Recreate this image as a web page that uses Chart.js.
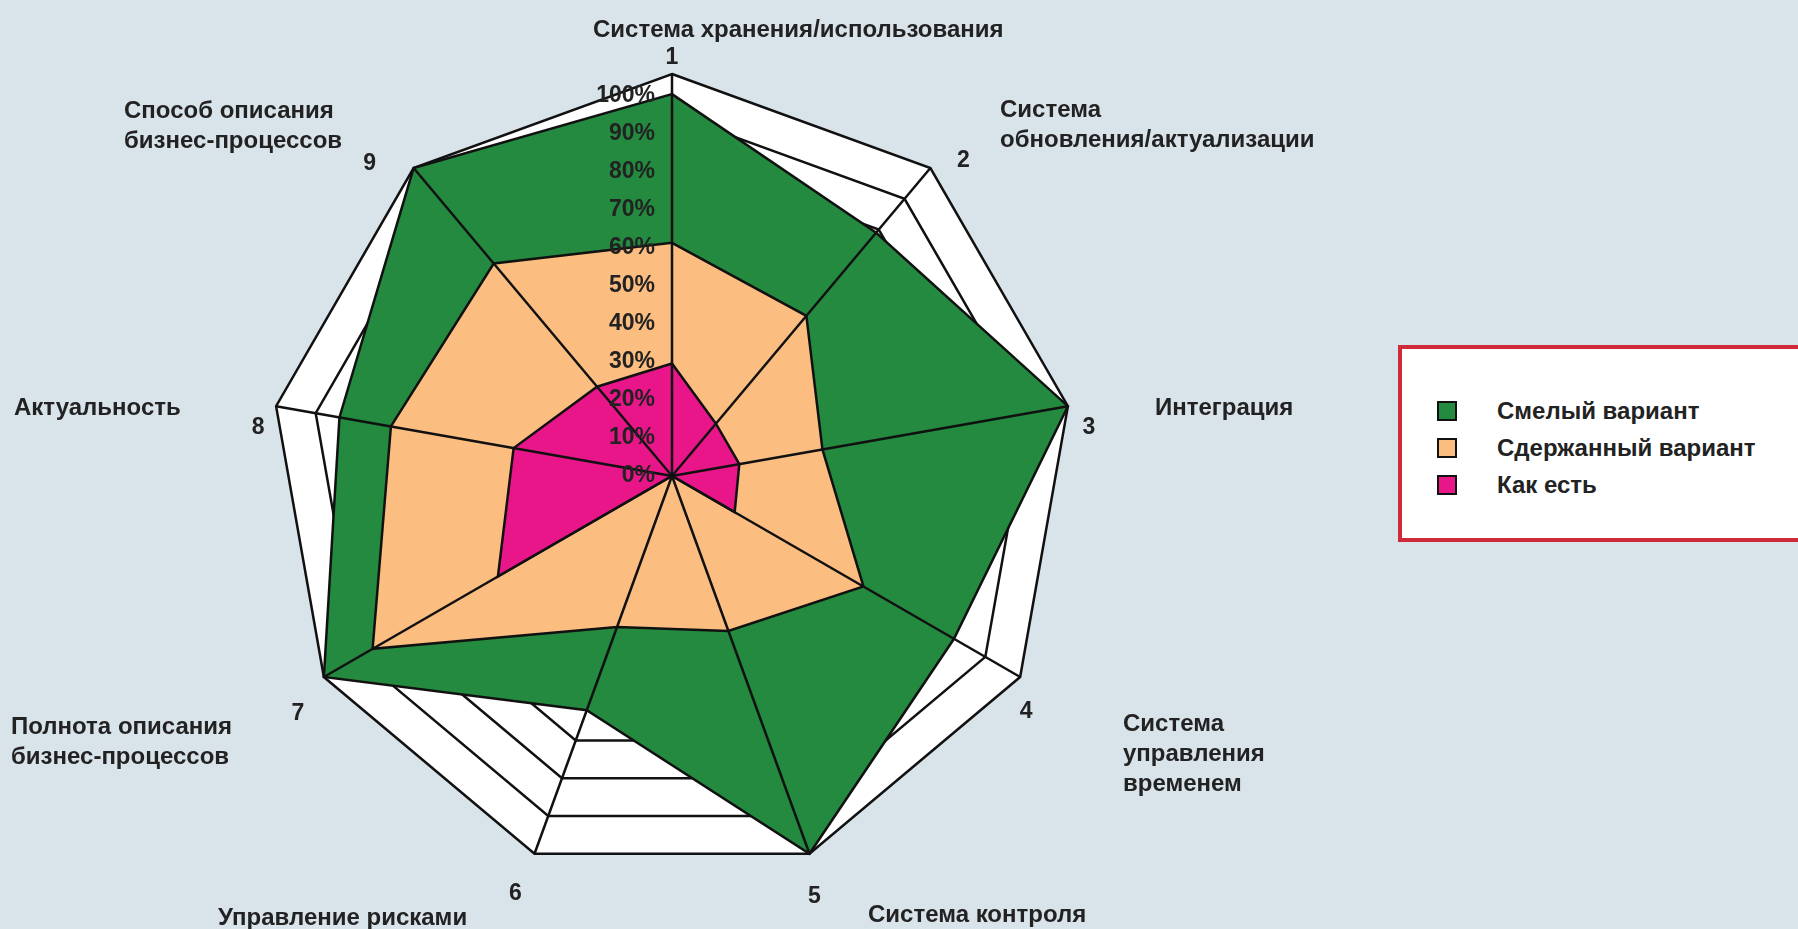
<!DOCTYPE html>
<html>
<head>
<meta charset="utf-8">
<script src="https://cdn.jsdelivr.net/npm/chart.js@4.4.1/dist/chart.umd.min.js"></script>
<style>
  html, body { margin: 0; padding: 0; background: #d9e3ea; overflow: hidden; }
  #wrap { position: relative; width: 1798px; height: 929px; }
  #c { position: absolute; left: 0; top: 0; }
  .name { position: absolute; font-family: 'Liberation Sans', Arial, sans-serif; font-size: 24px; font-weight: bold;
          line-height: 30px; color: #222; white-space: pre; }
  #legend { position: absolute; left: 1398px; top: 345px; width: 420px; height: 189px; background: #fff;
            border: 4px solid #cf2a38; box-sizing: content-box; }
  .li { position: absolute; left: 35px; font-family: 'Liberation Sans', Arial, sans-serif; font-size: 24px; font-weight: bold;
        color: #222; white-space: nowrap; height: 30px; line-height: 30px; }
  .sw { position: absolute; left: 0; top: 5px; width: 16px; height: 16px; border: 2px solid #111; }
  .lt { position: absolute; left: 60px; top: 0; }
</style>
</head>
<body>
<div id="wrap">
  <canvas id="c" width="1798" height="929"></canvas>
  <div id="legend"></div>
</div>
<script>
// ---- data ----
const axisNumbers = ['1','2','3','4','5','6','7','8','9'];
const axisNames = [
  'Система хранения/использования',
  'Система\nобновления/актуализации',
  'Интеграция',
  'Система\nуправления\nвременем',
  'Система контроля',
  'Управление рисками',
  'Полнота описания\nбизнес-процессов',
  'Актуальность',
  'Способ описания\nбизнес-процессов'
];
const tickValues = [0,10,20,30,40,50,60,70,80,90,100];
const tickLabels = ['0%','10%','20%','30%','40%','50%','60%','70%','80%','90%','100%'];
const seriesNames = ['Смелый вариант', 'Сдержанный вариант', 'Как есть'];
const boldValues     = [95, 79, 100, 81, 100, 62, 100, 84, 100];
const moderateValues = [58, 52, 38, 55, 41, 40, 86, 71, 69];
const currentValues  = [28, 17, 17, 18, 0, 0, 50, 40, 29];

// ---- styles / layout ----
const colors = ['#238a40', '#fbbd80', '#e9168a'];
const nameLayout = [
  {left: 593, top: 14},
  {left: 1000, top: 94},
  {left: 1155, top: 392},
  {left: 1123, top: 708},
  {left: 868, top: 899},
  {left: 218, top: 902},
  {left: 11, top: 711},
  {left: 14, top: 392},
  {left: 124, top: 95}
];
// offsets of the axis numbers from the outer vertex of each axis
const numberOffset = [
  {dx: 0, dy: -16}, {dx: 33, dy: -7}, {dx: 21, dy: 21},
  {dx: 6, dy: 35}, {dx: 5, dy: 43}, {dx: -19, dy: 40},
  {dx: -26, dy: 37}, {dx: -18, dy: 21}, {dx: -44, dy: -4}
];

axisNames.forEach((n, i) => {
  const d = document.createElement('div');
  d.className = 'name';
  d.textContent = n;
  d.style.left = nameLayout[i].left + 'px';
  d.style.top = nameLayout[i].top + 'px';
  document.getElementById('wrap').appendChild(d);
});

const lg = document.getElementById('legend');
seriesNames.forEach((n, i) => {
  const it = document.createElement('div');
  it.className = 'li';
  it.style.top = (47 + i * 37) + 'px';
  it.innerHTML = '<span class="sw" style="background:' + colors[i] + '"></span><span class="lt"></span>';
  it.querySelector('.lt').textContent = n;
  lg.appendChild(it);
});

const overlay = {
  id: 'overlay',
  afterDatasetsDraw(chart) {
    const s = chart.scales.r;
    const ctx = chart.ctx;
    const R = s.getDistanceFromCenterForValue(100);
    ctx.save();
    // angle lines over the filled areas
    ctx.strokeStyle = '#111';
    ctx.lineWidth = 2.5;
    for (let i = 0; i < axisNumbers.length; i++) {
      const p = s.getPointPosition(i, R);
      ctx.beginPath();
      ctx.moveTo(s.xCenter, s.yCenter);
      ctx.lineTo(p.x, p.y);
      ctx.stroke();
    }
    // tick labels, right aligned left of the vertical axis
    ctx.fillStyle = '#222';
    ctx.font = 'bold 23px "Liberation Sans", Arial, sans-serif';
    ctx.textAlign = 'right';
    ctx.textBaseline = 'middle';
    tickValues.forEach((v, i) => {
      const d = s.getDistanceFromCenterForValue(v) * 0.945;
      ctx.fillText(tickLabels[i], s.xCenter - 17, s.yCenter - d);
    });
    // axis numbers
    ctx.textAlign = 'center';
    axisNumbers.forEach((n, i) => {
      const p = s.getPointPosition(i, R);
      ctx.fillText(n, p.x + numberOffset[i].dx, p.y + numberOffset[i].dy);
    });
    ctx.restore();
  }
};

new Chart(document.getElementById('c'), {
  type: 'radar',
  data: {
    labels: axisNumbers,
    datasets: [
      {label: seriesNames[2], data: currentValues, backgroundColor: colors[2]},
      {label: seriesNames[1], data: moderateValues, backgroundColor: colors[1]},
      {label: seriesNames[0], data: boldValues, backgroundColor: colors[0]}
    ].map(d => Object.assign(d, {borderColor: '#111', borderWidth: 2.5, pointRadius: 0, fill: true, tension: 0}))
  },
  options: {
    responsive: false,
    animation: false,
    layout: {padding: {left: 270, top: 73, right: 724, bottom: 50}},
    plugins: {legend: {display: false}, tooltip: {enabled: false}},
    scales: {
      r: {
        min: 0, max: 100,
        backgroundColor: '#ffffff',
        ticks: {display: false, stepSize: 10},
        pointLabels: {display: false},
        angleLines: {display: false},
        grid: {color: '#111', lineWidth: 2.5}
      }
    }
  },
  plugins: [overlay]
});
</script>
</body>
</html>
